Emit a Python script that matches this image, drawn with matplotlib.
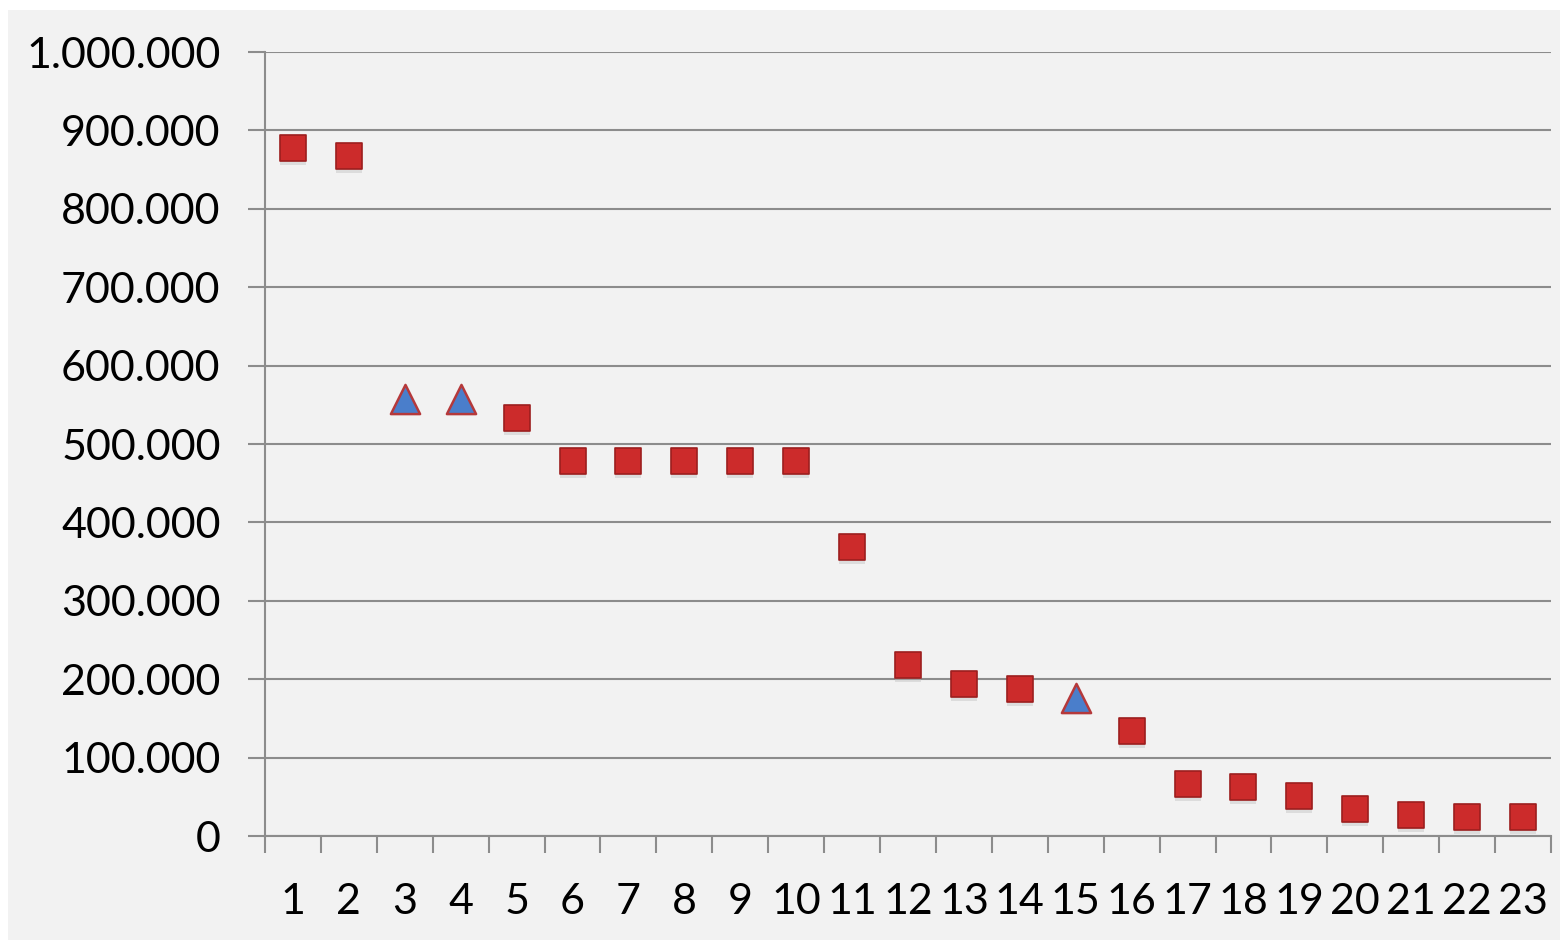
import numpy as np
import matplotlib.pyplot as plt
from matplotlib.ticker import FuncFormatter, FixedLocator
from matplotlib.patches import Rectangle

# values
categories = list(range(1, 24))
values = [878000, 867000, 558000, 557000, 533000, 478000, 478000, 478000, 478000, 478000,
          369000, 218000, 194000, 187000, 176000, 134000, 66000, 62000, 51000, 34000,
          27000, 24000, 24000]
# which points are drawn as blue triangles
triangle_idx = [3, 4, 15]

plt.rcParams['font.family'] = ['Lato', 'DejaVu Sans']

fig = plt.figure(figsize=(15.68, 9.42), dpi=100, facecolor='white')
fig.patches.append(Rectangle((8 / 1568, 2 / 942), 1552 / 1568, 930 / 942,
                             transform=fig.transFigure, facecolor='#f2f2f2',
                             edgecolor='none', zorder=-10))
ax = fig.add_axes([265 / 1568, 1 - 836 / 942, (1551 - 265) / 1568, (836 - 52) / 942])
ax.set_facecolor('#f2f2f2')

x = np.array(categories)
y = np.array(values)
is_tri = np.isin(x, triangle_idx)

# soft shadow under markers
ax.scatter(x[~is_tri], y[~is_tri] - 5000, marker='s', s=19 ** 2, color='#bdbdbd',
           alpha=0.4, zorder=2, linewidths=0)
ax.scatter(x[~is_tri], y[~is_tri], marker='s', s=19 ** 2, color='#cc2b2b',
           edgecolors='#9c1e1e', linewidths=1.2, zorder=3)
ax.scatter(x[is_tri], y[is_tri], marker='^', s=21 ** 2, color='#4a7ecb',
           edgecolors='#b5393b', linewidths=1.8, zorder=3)

ax.set_xlim(0.5, 23.5)
ax.set_ylim(0, 1000000)
ax.set_yticks(np.arange(0, 1000001, 100000))
ax.yaxis.set_major_formatter(FuncFormatter(lambda v, p: '{:,.0f}'.format(v).replace(',', '.')))
ax.grid(axis='y', color='#8c8c8c', linewidth=1.5)
ax.set_axisbelow(True)

ax.set_xticks(x)
ax.set_xticklabels([str(c) for c in categories])
ax.xaxis.set_minor_locator(FixedLocator(np.arange(0.5, 24, 1)))
ax.tick_params(axis='x', which='major', length=0, pad=34, labelsize=31)
ax.tick_params(axis='x', which='minor', length=12, width=1.5, color='#8c8c8c', direction='out')
ax.tick_params(axis='y', length=12, width=1.5, color='#8c8c8c', pad=20, labelsize=31)

for side in ['top', 'right']:
    ax.spines[side].set_visible(False)
for side in ['left', 'bottom']:
    ax.spines[side].set_color('#8c8c8c')
    ax.spines[side].set_linewidth(1.5)

fig.savefig('out.png', dpi=100, facecolor=fig.get_facecolor())
